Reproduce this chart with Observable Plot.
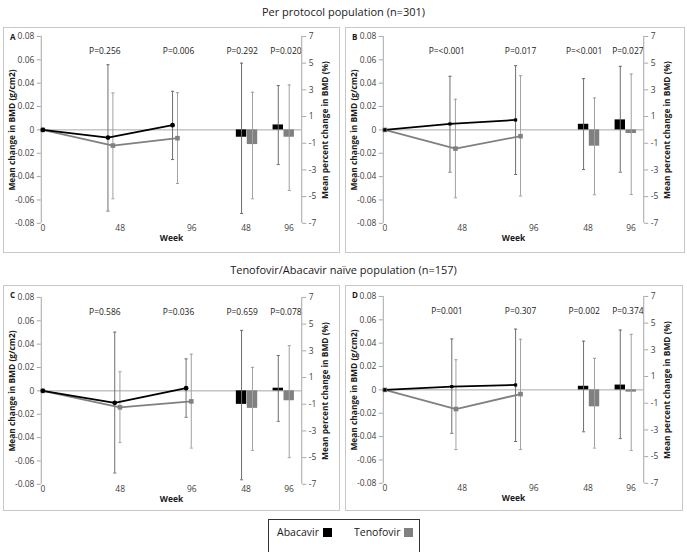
<!DOCTYPE html>
<html><head><meta charset="utf-8">
<script src="https://cdn.jsdelivr.net/npm/d3@7"></script>
<script src="https://cdn.jsdelivr.net/npm/@observablehq/plot@0.6"></script>
<style>
body{margin:0;width:687px;height:552px;position:relative;background:#fff;font-family:"Open Sans",sans-serif;overflow:hidden;color:#1a1a1a}
.title{position:absolute;left:0;width:687px;text-align:center;font-size:11px;line-height:14px}
.panel{position:absolute;border:1px solid #c8c8c8;box-sizing:border-box;background:#fff}
.panel svg{position:absolute;left:0;top:0}
.letter{position:absolute;left:6px;top:3px;font-size:8px;font-weight:bold}
.rot{position:absolute;transform:translate(-50%,-50%) rotate(-90deg);white-space:nowrap;font-size:8.4px;font-weight:bold}
.legend{position:absolute;left:268px;top:519px;width:152px;height:45px;border:1px solid #333;box-sizing:border-box;font-size:10.5px}
.item{position:absolute;top:5px;display:flex;align-items:center;white-space:nowrap}
.sw{display:inline-block;width:9px;height:9px;margin-left:4px}
</style></head>
<body>
<div class="title" style="top:5px">Per protocol population (n=301)</div>
<div class="title" style="top:263px">Tenofovir/Abacavir naïve population (n=157)</div>
<div id="A" class="panel"></div>
<div id="B" class="panel"></div>
<div id="C" class="panel"></div>
<div id="D" class="panel"></div>
<div class="legend">
  <div class="item" style="left:8px"><span>Abacavir</span><span class="sw" style="background:#000"></span></div>
  <div class="item" style="left:85px"><span>Tenofovir</span><span class="sw" style="background:#808080"></span></div>
</div>
<script>
// ---- shared axis / layout data ----
const yTicksLeft = [-0.08, -0.06, -0.04, -0.02, 0, 0.02, 0.04, 0.06, 0.08];
const yTicksRight = [-7, -5, -3, -1, 1, 3, 5, 7];
const xTickLabels = ["0", "48", "96", "48", "96"];
const xTickPos = [0.6, 30.3, 57.8, 78.6, 95.1];
const pvalPos = [24.4, 52.7, 77.1, 93.9];
const barPosAbacavir = [76.9, 91.0];
const barPosTenofovir = [81.1, 95.2];
const barHalfWidth = 2;

// ---- Panel A ----
const pA = ["P=0.256", "P=0.006", "P=0.292", "P=0.020"];
const lineXAbaA = [0.6, 25.6, 50.4], lineXTenA = [0.6, 27.5, 52.3];
const abaA = [0, -0.0066, 0.0040], abaLoA = [null, -0.0695, -0.0254], abaHiA = [null, 0.0558, 0.0330];
const tenA = [0, -0.0134, -0.0071], tenLoA = [null, -0.0590, -0.0459], tenHiA = [null, 0.0316, 0.0319];
const barAbaA = [-0.55, 0.37], barAbaLoA = [-6.26, -2.60], barAbaHiA = [5.00, 3.32];
const barTenA = [-1.10, -0.55], barTenLoA = [-5.16, -4.54], barTenHiA = [2.82, 3.37];

// ---- Panel B ----
const pB = ["P=<0.001", "P=0.017", "P=<0.001", "P=0.027"];
const lineXAbaB = [0.6, 25.6, 50.8], lineXTenB = [0.6, 27.7, 52.7];
const abaB = [0, 0.0051, 0.0085], abaLoB = [null, -0.0362, -0.0382], abaHiB = [null, 0.0459, 0.0550];
const tenB = [0, -0.0160, -0.0054], tenLoB = [null, -0.0581, -0.0567], tenHiB = [null, 0.0262, 0.0464];
const barAbaB = [0.42, 0.75], barAbaLoB = [-2.97, -3.17], barAbaHiB = [3.84, 4.76];
const barTenB = [-1.22, -0.27], barTenLoB = [-4.86, -4.84], barTenHiB = [2.39, 4.19];

// ---- Panel C ----
const pC = ["P=0.586", "P=0.036", "P=0.659", "P=0.078"];
const lineXAbaC = [0.6, 28.2, 55.6], lineXTenC = [0.6, 30.2, 57.6];
const abaC = [0, -0.0102, 0.0023], abaLoC = [null, -0.0703, -0.0226], abaHiC = [null, 0.0503, 0.0274];
const tenC = [0, -0.0141, -0.0090], tenLoC = [null, -0.0443, -0.0490], tenHiC = [null, 0.0164, 0.0314];
const barAbaC = [-1.01, 0.20], barAbaLoC = [-6.66, -2.28], barAbaHiC = [4.53, 2.65];
const barTenC = [-1.31, -0.74], barTenLoC = [-4.46, -5.00], barTenHiC = [1.76, 3.39];

// ---- Panel D ----
const pD = ["P=0.001", "P=0.307", "P=0.002", "P=0.374"];
const lineXAbaD = [0.6, 26.3, 50.8], lineXTenD = [0.6, 27.9, 52.7];
const abaD = [0, 0.0028, 0.0042], abaLoD = [null, -0.0372, -0.0442], abaHiD = [null, 0.0436, 0.0520];
const tenD = [0, -0.0164, -0.0036], tenLoD = [null, -0.0511, -0.0511], tenHiD = [null, 0.0258, 0.0433];
const barAbaD = [0.27, 0.36], barAbaLoD = [-3.14, -3.65], barAbaHiD = [3.65, 4.48];
const barTenD = [-1.27, -0.17], barTenLoD = [-4.36, -4.55], barTenHiD = [2.36, 4.16];

const panels = [
  {id:"A", left:3, top:27, w:337, h:226, ptop:8, aSym:"circle", p:pA, xa:lineXAbaA, xt:lineXTenA,
   a:abaA, alo:abaLoA, ahi:abaHiA, t:tenA, tlo:tenLoA, thi:tenHiA,
   ba:barAbaA, balo:barAbaLoA, bahi:barAbaHiA, bt:barTenA, btlo:barTenLoA, bthi:barTenHiA},
  {id:"B", left:345, top:27, w:340, h:226, ptop:8, aSym:"square", p:pB, xa:lineXAbaB, xt:lineXTenB,
   a:abaB, alo:abaLoB, ahi:abaHiB, t:tenB, tlo:tenLoB, thi:tenHiB,
   ba:barAbaB, balo:barAbaLoB, bahi:barAbaHiB, bt:barTenB, btlo:barTenLoB, bthi:barTenHiB},
  {id:"C", left:3, top:285, w:337, h:226, ptop:11, aSym:"circle", p:pC, xa:lineXAbaC, xt:lineXTenC,
   a:abaC, alo:abaLoC, ahi:abaHiC, t:tenC, tlo:tenLoC, thi:tenHiC,
   ba:barAbaC, balo:barAbaLoC, bahi:barAbaHiC, bt:barTenC, btlo:barTenLoC, bthi:barTenHiC},
  {id:"D", left:345, top:285, w:338, h:226, ptop:10, aSym:"square", p:pD, xa:lineXAbaD, xt:lineXTenD,
   a:abaD, alo:abaLoD, ahi:abaHiD, t:tenD, tlo:tenLoD, thi:tenHiD,
   ba:barAbaD, balo:barAbaLoD, bahi:barAbaHiD, bt:barTenD, btlo:barTenLoD, bthi:barTenHiD}
];

const FONT = '"Open Sans", sans-serif';
const fmtLeft = v => v === 0 ? "0" : (v < 0 ? "-" : "") + Math.abs(v).toFixed(2);
const fmtRight = v => (v < 0 ? "-" : "") + Math.abs(v);
const AXIS = "#a6a6a6", TXT = "#404040";
const ERR_A = "#6e6e6e", ERR_T = "#a0a0a0";
const GRAY = "#808080";
const FS = 8.5;

function errMarks(xs, lo, hi, color) {
  const idx = d3.range(xs.length).filter(i => lo[i] != null);
  return [
    Plot.ruleX(idx, {x: i => xs[i], y1: i => lo[i], y2: i => hi[i], stroke: color, strokeWidth: 1}),
    Plot.link(idx, {x1: i => xs[i] - 0.6, x2: i => xs[i] + 0.6, y1: i => lo[i], y2: i => lo[i], stroke: color}),
    Plot.link(idx, {x1: i => xs[i] - 0.6, x2: i => xs[i] + 0.6, y1: i => hi[i], y2: i => hi[i], stroke: color})
  ];
}

for (const c of panels) {
  const el = document.getElementById(c.id);
  Object.assign(el.style, {left: c.left + "px", top: c.top + "px", width: c.w + "px", height: c.h + "px"});
  const ml = 37, plotW = 262, plotH = 188;
  const mr = c.w - ml - plotW, mt = c.ptop, mb = c.h - mt - plotH;
  const common = {width: c.w, height: c.h, marginLeft: ml, marginRight: mr, marginTop: mt, marginBottom: mb,
    x: {domain: [0, 100]}, style: {fontFamily: FONT, fontSize: FS + "px", background: "transparent", overflow: "visible"}};
  const idx3 = [0, 1, 2];

  const left = Plot.plot({...common,
    y: {domain: [-0.08, 0.08]},
    marks: [
      Plot.ruleX([0], {stroke: AXIS}),
      Plot.ruleY([0], {stroke: AXIS}),
      Plot.axisY({ticks: yTicksLeft, tickFormat: fmtLeft, tickSize: 4, tickPadding: 3, stroke: AXIS, fill: TXT, label: null, fontSize: FS}),
      Plot.axisX({ticks: [], label: null}),
      Plot.text(xTickLabels, {x: (d, i) => xTickPos[i], frameAnchor: "bottom", dy: 8, text: d => d, fill: TXT, fontSize: FS}),
      Plot.text(["Week"], {frameAnchor: "bottom", dy: 18, text: d => d, fontWeight: "bold", fill: "#1a1a1a", fontSize: FS}),
      Plot.text(c.p, {x: (d, i) => pvalPos[i], frameAnchor: "top", dy: 12, text: d => d, fill: "#1a1a1a", fontSize: FS}),
      ...errMarks(c.xa, c.alo, c.ahi, ERR_A),
      ...errMarks(c.xt, c.tlo, c.thi, ERR_T),
      Plot.line(idx3, {x: i => c.xt[i], y: i => c.t[i], stroke: GRAY, strokeWidth: 1.8}),
      Plot.line(idx3, {x: i => c.xa[i], y: i => c.a[i], stroke: "#000", strokeWidth: 1.8}),
      Plot.dot(idx3, {x: i => c.xt[i], y: i => c.t[i], symbol: "square", r: 2.6, fill: GRAY}),
      Plot.dot(idx3, {x: i => c.xa[i], y: i => c.a[i], symbol: c.aSym, r: c.aSym === "circle" ? 2.4 : 1.8, fill: "#000"})
    ]
  });

  const idx2 = [0, 1];
  const right = Plot.plot({...common,
    y: {domain: [-7, 7]},
    marks: [
      Plot.ruleX([100], {stroke: AXIS}),
      Plot.axisY({anchor: "right", ticks: yTicksRight, tickFormat: fmtRight, tickSize: 4, tickPadding: 3, stroke: AXIS, fill: TXT, label: null, fontSize: FS}),
      Plot.axisX({ticks: [], label: null}),
      Plot.rect(idx2, {x1: i => barPosAbacavir[i] - barHalfWidth, x2: i => barPosAbacavir[i] + barHalfWidth, y1: 0, y2: i => c.ba[i], fill: "#000"}),
      Plot.rect(idx2, {x1: i => barPosTenofovir[i] - barHalfWidth, x2: i => barPosTenofovir[i] + barHalfWidth, y1: 0, y2: i => c.bt[i], fill: GRAY}),
      ...errMarks(barPosAbacavir, c.balo, c.bahi, ERR_A),
      ...errMarks(barPosTenofovir, c.btlo, c.bthi, ERR_T)
    ]
  });

  el.appendChild(left);
  el.appendChild(right);

  const letter = document.createElement("div");
  letter.className = "letter"; letter.textContent = c.id; el.appendChild(letter);

  const cy = mt + plotH / 2;
  const yl = document.createElement("div");
  yl.className = "rot"; yl.textContent = "Mean change in BMD (g/cm2)";
  yl.style.left = "7px"; yl.style.top = cy + "px"; el.appendChild(yl);
  const yr = document.createElement("div");
  yr.className = "rot"; yr.textContent = "Mean percent change in BMD (%)";
  yr.style.left = (ml + plotW + 21) + "px"; yr.style.top = cy + "px"; el.appendChild(yr);
}
</script>
</body></html>
